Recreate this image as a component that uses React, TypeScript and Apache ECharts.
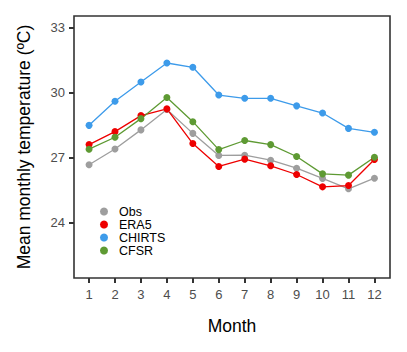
import React, { useEffect, useRef } from "react";
import * as echarts from "echarts";

const months = [1, 2, 3, 4, 5, 6, 7, 8, 9, 10, 11, 12];
const obs = [26.68, 27.41, 28.29, 29.23, 28.13, 27.11, 27.12, 26.89, 26.52, 26.05, 25.57, 26.06];
const era5 = [27.61, 28.21, 28.95, 29.26, 27.66, 26.6, 26.94, 26.63, 26.23, 25.66, 25.72, 26.92];
const chirts = [28.5, 29.61, 30.5, 31.38, 31.18, 29.9, 29.75, 29.75, 29.4, 29.07, 28.36, 28.18];
const cfsr = [27.4, 27.95, 28.81, 29.79, 28.67, 27.38, 27.8, 27.61, 27.06, 26.26, 26.2, 27.03];
const yTicks = [24, 27, 30, 33];

const seriesDefs = [
  { name: "Obs", data: obs, color: "#9e9e9e" },
  { name: "ERA5", data: era5, color: "#ee0000" },
  { name: "CHIRTS", data: chirts, color: "#3d9bea" },
  { name: "CFSR", data: cfsr, color: "#5e9a33" },
];

export default function App() {
  const ref = useRef<HTMLDivElement>(null);
  useEffect(() => {
    if (!ref.current) return;
    const chart = echarts.init(ref.current, undefined, { renderer: "svg" });
    chart.setOption({
      animation: false,
      backgroundColor: "#ffffff",
      textStyle: { fontFamily: "Liberation Sans, Arial, sans-serif" },
      grid: { left: 74, top: 16, right: 17, bottom: 74, show: true, borderColor: "#333333", borderWidth: 1.6, backgroundColor: "transparent" },
      legend: {
        orient: "vertical",
        left: 95,
        top: 200,
        icon: "circle",
        itemWidth: 8,
        itemHeight: 8,
        itemGap: 0,
        textStyle: { fontSize: 12.5, color: "#000", lineHeight: 12.7, padding: [0, 0, 0, 6] },
        data: seriesDefs.map((s) => s.name),
      },
      xAxis: {
        type: "value",
        min: 0.42,
        max: 12.6,
        name: "Month",
        nameLocation: "middle",
        nameGap: 39,
        nameTextStyle: { fontSize: 17.5, color: "#000" },
        axisLine: { show: false },
        axisTick: { show: true, length: 5, lineStyle: { color: "#333333", width: 2 }, customValues: months },
        axisLabel: { fontSize: 13, color: "#4d4d4d", margin: 10, customValues: months },
        splitLine: { show: false },
      },
      yAxis: {
        type: "value",
        min: 21.45,
        max: 33.55,
        name: "Mean monthly temperature (ºC)",
        nameLocation: "middle",
        nameGap: 41,
        nameTextStyle: { fontSize: 17.5, color: "#000" },
        axisLine: { show: false },
        axisTick: { show: true, length: 5, lineStyle: { color: "#333333", width: 2 }, customValues: yTicks },
        axisLabel: { fontSize: 13, color: "#4d4d4d", margin: 9, customValues: yTicks },
        splitLine: { show: false },
      },
      series: seriesDefs.map((s) => ({
        name: s.name,
        type: "line",
        data: s.data.map((v, i) => [months[i], v]),
        color: s.color,
        symbol: "circle",
        symbolSize: 7,
        lineStyle: { width: 1.3, color: s.color },
        itemStyle: { color: s.color },
      })),
    });
    return () => chart.dispose();
  }, []);
  return <div ref={ref} style={{ width: 407, height: 352, position: "absolute", left: 0, top: 0 }} />;
}
